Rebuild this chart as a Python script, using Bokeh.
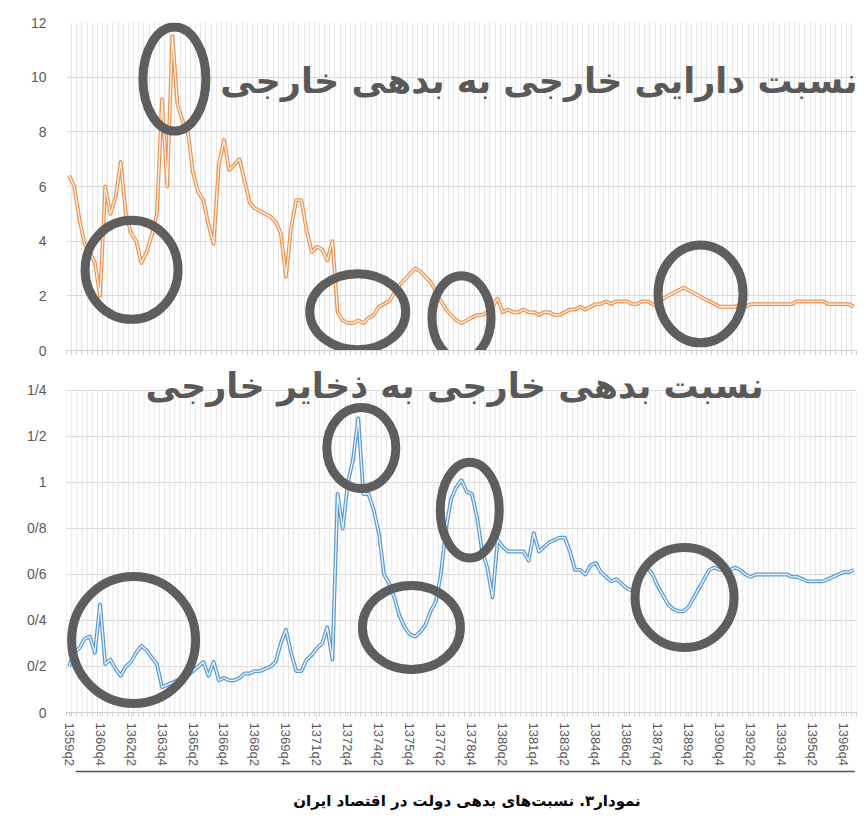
from bokeh.plotting import figure
from bokeh.layouts import column
from bokeh.models import FixedTicker, Label, Range1d, ColumnDataSource
from bokeh.embed import file_html
from bokeh.resources import INLINE

# ---------------- data ----------------
start_year, start_q, n_quarters = 1359, 2, 153
quarters = []
yy, qq = start_year, start_q
for _ in range(n_quarters):
    quarters.append(f"{yy}q{qq}")
    qq += 1
    if qq > 4:
        qq = 1
        yy += 1

label_step = 6

assets_to_debt = [
    6.4, 6.0, 4.8, 3.9, 3.6, 3.2, 2.0, 6.0, 5.0, 5.6,
    6.9, 5.0, 4.3, 4.0, 3.2, 3.6, 4.2, 5.0, 9.2, 6.0,
    11.5, 9.0, 8.4, 8.0, 6.5, 5.8, 5.5, 4.6, 3.9, 6.8,
    7.7, 6.6, 6.8, 7.0, 6.2, 5.4, 5.2, 5.1, 5.0, 4.9,
    4.7, 4.3, 2.7, 4.5, 5.5, 5.5, 4.4, 3.6, 3.8, 3.7,
    3.3, 4.0, 1.4, 1.1, 1.0, 1.0, 1.1, 1.0, 1.2, 1.3,
    1.6, 1.7, 1.8, 2.1, 2.4, 2.6, 2.8, 3.0, 2.9, 2.7,
    2.5, 2.2, 1.8, 1.5, 1.3, 1.1, 1.0, 1.1, 1.2, 1.3,
    1.3, 1.4, 1.6, 1.9, 1.4, 1.5, 1.4, 1.4, 1.5, 1.4,
    1.4, 1.3, 1.4, 1.4, 1.3, 1.3, 1.4, 1.5, 1.5, 1.6,
    1.5, 1.6, 1.7, 1.7, 1.8, 1.7, 1.8, 1.8, 1.8, 1.7,
    1.7, 1.8, 1.8, 1.7, 1.6, 1.9, 2.0, 2.1, 2.2, 2.3,
    2.2, 2.1, 2.0, 1.9, 1.8, 1.7, 1.6, 1.6, 1.6, 1.6,
    1.7, 1.6, 1.7, 1.7, 1.7, 1.7, 1.7, 1.7, 1.7, 1.7,
    1.7, 1.8, 1.8, 1.8, 1.8, 1.8, 1.8, 1.7, 1.7, 1.7,
    1.7, 1.7, 1.6,
]

debt_to_reserves = [
    0.20, 0.26, 0.28, 0.32, 0.33, 0.26, 0.47, 0.21, 0.23, 0.19,
    0.16, 0.20, 0.22, 0.26, 0.29, 0.27, 0.24, 0.21, 0.11, 0.12,
    0.13, 0.14, 0.15, 0.16, 0.18, 0.20, 0.22, 0.16, 0.22, 0.14,
    0.15, 0.14, 0.14, 0.15, 0.17, 0.17, 0.18, 0.18, 0.19, 0.20,
    0.22, 0.30, 0.36, 0.26, 0.18, 0.18, 0.23, 0.25, 0.28, 0.30,
    0.37, 0.23, 0.95, 0.80, 1.00, 1.10, 1.28, 0.95, 0.95, 0.88,
    0.78, 0.60, 0.56, 0.50, 0.42, 0.37, 0.34, 0.33, 0.35, 0.38,
    0.44, 0.48, 0.60, 0.80, 0.93, 0.98, 1.01, 0.96, 0.95, 0.85,
    0.70, 0.63, 0.50, 0.75, 0.72, 0.70, 0.70, 0.70, 0.70, 0.66,
    0.78, 0.70, 0.72, 0.74, 0.75, 0.76, 0.76, 0.70, 0.62, 0.62,
    0.60, 0.64, 0.65, 0.61, 0.59, 0.57, 0.58, 0.56, 0.54, 0.53,
    0.55, 0.60, 0.63, 0.60, 0.55, 0.51, 0.47, 0.45, 0.44, 0.44,
    0.46, 0.50, 0.54, 0.58, 0.62, 0.63, 0.62, 0.62, 0.62, 0.63,
    0.62, 0.60, 0.59, 0.60, 0.60, 0.60, 0.60, 0.60, 0.60, 0.60,
    0.59, 0.59, 0.58, 0.57, 0.57, 0.57, 0.57, 0.58, 0.59, 0.60,
    0.61, 0.61, 0.62,
]

top_ticks = [0, 2, 4, 6, 8, 10, 12]
bottom_ticks = [0, 0.2, 0.4, 0.6, 0.8, 1, 1.2, 1.4]
bottom_tick_labels = ["0", "0/2", "0/4", "0/6", "0/8", "1", "1/2", "1/4"]

top_title = "نسبت دارایی خارجی به بدهی خارجی"
bottom_title = "نسبت بدهی خارجی به ذخایر خارجی"
caption = "نمودار۳. نسبت\u200cهای بدهی دولت در اقتصاد ایران"

# highlighted regions (index, value, screen width, screen height)
top_marks_x = [12.1, 20.4, 55.9, 76.0, 122.3]
top_marks_y = [2.95, 9.93, 1.42, 1.20, 2.07]
top_marks_w = [93, 63, 96, 59, 85]
top_marks_h = [99, 104, 76, 84, 98]

bot_marks_x = [12.5, 56.6, 66.3, 77.6, 119.2]
bot_marks_y = [0.315, 1.15, 0.37, 0.88, 0.50]
bot_marks_w = [124, 69, 98, 59, 99]
bot_marks_h = [127, 81, 84, 96, 100]

# ---------------- styling ----------------
W = 858
idx = list(range(n_quarters))
label_idx = idx[::label_step]
boundaries = [k - 0.5 for k in range(n_quarters + 1)]
GRID_H = "#d9d9d9"
GRID_V = "#e6e6e6"
TXT = "#595959"
RING = "#5e5e5e"
ORANGE, ORANGE_IN = "#EF9350", "#FFF3E8"
BLUE, BLUE_IN = "#5B9BD5", "#EEF5FC"


def style(p, yticks, overrides=None, show_x_labels=False):
    p.outline_line_color = None
    p.background_fill_color = "white"
    p.border_fill_color = "white"
    p.yaxis.ticker = FixedTicker(ticks=yticks)
    if overrides:
        p.yaxis.major_label_overrides = overrides
    p.yaxis.axis_line_color = None
    p.yaxis.major_tick_line_color = None
    p.yaxis.minor_tick_line_color = None
    p.yaxis.major_label_text_font = "Liberation Sans"
    p.yaxis.major_label_text_font_size = "14px"
    p.yaxis.major_label_text_color = TXT
    p.yaxis.major_label_standoff = 14
    p.ygrid.grid_line_color = GRID_H
    p.ygrid.grid_line_width = 1
    p.xaxis.axis_line_color = "#cfcfcf"
    p.xaxis.major_tick_line_color = "#cfcfcf"
    p.xaxis.minor_tick_line_color = "#cfcfcf"
    p.xaxis.major_tick_in = 0
    p.xaxis.major_tick_out = 4
    p.xaxis.minor_tick_in = 0
    p.xaxis.minor_tick_out = 4
    if show_x_labels:
        p.xaxis.ticker = FixedTicker(ticks=label_idx, minor_ticks=boundaries)
        p.xaxis.major_label_overrides = {i: quarters[i] for i in label_idx}
        p.xaxis.major_label_orientation = "vertical"
        p.xaxis.major_label_text_font = "Liberation Sans"
        p.xaxis.major_label_text_font_size = "13px"
        p.xaxis.major_label_text_color = TXT
        p.xaxis.major_label_standoff = 6
    else:
        p.xaxis.ticker = FixedTicker(ticks=[], minor_ticks=boundaries)
        p.xaxis.major_label_standoff = 0


# ---------------- top panel ----------------
top = figure(width=W, height=358, x_range=Range1d(-0.5, n_quarters - 0.5),
             y_range=Range1d(0, 12), output_backend="svg", toolbar_location=None,
             min_border_left=66, min_border_right=2, min_border_top=22,
             min_border_bottom=8)
style(top, top_ticks)
top.xgrid.ticker = FixedTicker(ticks=boundaries)
top.xgrid.grid_line_color = GRID_V
src_top = ColumnDataSource(dict(x=idx, y=assets_to_debt))
top.line("x", "y", source=src_top, line_color=ORANGE, line_width=3.8, line_join="round")
top.line("x", "y", source=src_top, line_color=ORANGE_IN, line_width=1.3, line_join="round")
top.ellipse(x=top_marks_x, y=top_marks_y, width=top_marks_w, height=top_marks_h,
            width_units="screen", height_units="screen", fill_alpha=0,
            line_color=RING, line_width=9)
top.add_layout(Label(x=152.7, y=9.85, text=top_title, text_align="right",
                     text_baseline="middle", text_font="DejaVu Sans",
                     text_font_style="bold", text_font_size="35px",
                     text_color=TXT))

# ---------------- bottom panel ----------------
# frame starts at the canvas top; the 1.4 gridline sits 32 px lower
bot_top = 1.539
bot = figure(width=W, height=410, x_range=Range1d(-0.5, n_quarters - 0.5),
             y_range=Range1d(0, bot_top), output_backend="svg", toolbar_location=None,
             min_border_left=66, min_border_right=2, min_border_top=0,
             min_border_bottom=55)
style(bot, bottom_ticks, dict(zip(bottom_ticks, bottom_tick_labels)), show_x_labels=True)
bot.xgrid.grid_line_color = None
bot.segment(x0=boundaries, y0=[0] * len(boundaries), x1=boundaries,
            y1=[bottom_ticks[-1]] * len(boundaries), line_color=GRID_V, line_width=1)
src_bot = ColumnDataSource(dict(x=idx, y=debt_to_reserves))
bot.line("x", "y", source=src_bot, line_color=BLUE, line_width=3.8, line_join="round")
bot.line("x", "y", source=src_bot, line_color=BLUE_IN, line_width=1.3, line_join="round")
bot.ellipse(x=bot_marks_x, y=bot_marks_y, width=bot_marks_w, height=bot_marks_h,
            width_units="screen", height_units="screen", fill_alpha=0,
            line_color=RING, line_width=9)
bot.add_layout(Label(x=134.5, y=1.42, text=bottom_title, text_align="right",
                     text_baseline="middle", text_font="DejaVu Sans",
                     text_font_style="bold", text_font_size="35px",
                     text_color=TXT))

# ---------------- caption ----------------
CH = 66
cap = figure(width=W, height=CH, x_range=Range1d(0, W), y_range=Range1d(0, CH),
             output_backend="svg", toolbar_location=None,
             min_border_left=0, min_border_right=0, min_border_top=0, min_border_bottom=0)
cap.axis.visible = False
cap.grid.visible = False
cap.outline_line_color = None
cap.line(x=[10, 856], y=[CH - 3, CH - 3], line_color="#555555", line_width=1.5)
cap.text(x=[435], y=[CH - 32], text=[caption], text_align="center", text_baseline="middle",
         text_font={"value": "DejaVu Sans"}, text_font_style="bold",
         text_font_size="15px", text_color="black")

layout = column(top, bot, cap, spacing=0)
open("out.html", "w").write(file_html(layout, INLINE))
